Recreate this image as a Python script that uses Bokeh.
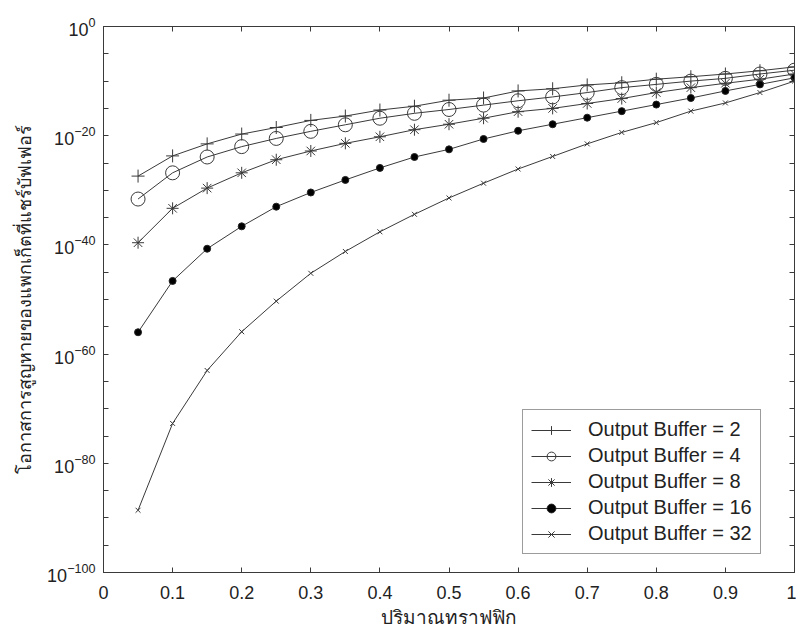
from bokeh.plotting import figure
from bokeh.models import (LogAxis, LinearAxis, FixedTicker, LogTickFormatter, Legend,
                          LegendItem, Range1d, BasicTickFormatter, CustomJSTickFormatter)
from bokeh.embed import file_html
from bokeh.resources import INLINE

# ---- data (y values given as base-10 exponents) ----
traffic = [0.05, 0.10, 0.15, 0.20, 0.25, 0.30, 0.35, 0.40, 0.45, 0.50,
           0.55, 0.60, 0.65, 0.70, 0.75, 0.80, 0.85, 0.90, 0.95, 1.00]

exp_buf2 = [-27.4, -23.7, -21.5, -19.7, -18.5, -17.2, -16.4, -15.3, -14.6, -13.5,
            -13.1, -11.8, -11.4, -10.7, -10.3, -9.65, -9.2, -8.7, -8.1, -7.4]
exp_buf4 = [-31.6, -26.8, -23.9, -22.0, -20.5, -19.2, -18.0, -16.8, -15.9, -15.2,
            -14.4, -13.6, -12.9, -12.1, -11.2, -10.6, -10.0, -9.5, -8.7, -8.0]
exp_buf8 = [-39.6, -33.3, -29.6, -26.8, -24.4, -22.8, -21.4, -20.2, -18.9, -17.9,
            -16.8, -15.6, -15.0, -14.1, -13.2, -12.1, -11.2, -10.4, -9.65, -8.7]
exp_buf16 = [-56.0, -46.6, -40.7, -36.6, -33.0, -30.4, -28.1, -25.9, -23.9, -22.5,
             -20.6, -19.1, -17.9, -16.7, -15.5, -14.3, -13.1, -11.8, -10.6, -9.4]
exp_buf32 = [-88.6, -72.7, -63.0, -55.9, -50.3, -45.2, -41.2, -37.6, -34.4, -31.4,
             -28.7, -26.1, -23.8, -21.5, -19.4, -17.6, -15.5, -14.0, -12.1, -10.0]

series_labels = ["Output Buffer = 2", "Output Buffer = 4", "Output Buffer = 8",
                 "Output Buffer = 16", "Output Buffer = 32"]

x_ticks = [0, 0.1, 0.2, 0.3, 0.4, 0.5, 0.6, 0.7, 0.8, 0.9, 1]
y_major_exps = [0, -20, -40, -60, -80, -100]
y_minor_exps = [-5, -10, -15, -25, -30, -35, -45, -50, -55, -65, -70, -75, -85, -90, -95]

x_label = "ปริมาณทราฟฟิก"
y_label = "โอกาสการสูญหายของแพกเก็ตที่แชร์บัฟเฟอร์"

# ---- figure ----
FONT = "Liberation Sans"
INK = "#3a3a3a"

p = figure(width=796, height=632, y_axis_type="log",
           x_range=Range1d(0, 1), y_range=Range1d(1e-100, 1),
           output_backend="svg", toolbar_location=None,
           min_border_left=103, min_border_top=26, min_border_right=2, min_border_bottom=57)

p.xgrid.grid_line_color = None
p.ygrid.grid_line_color = None
p.outline_line_color = INK
p.background_fill_color = "white"
p.border_fill_color = "white"

y_major = [10.0 ** e for e in y_major_exps]
y_minor = [10.0 ** e for e in y_minor_exps]

def style_axis(ax):
    ax.axis_line_color = INK
    ax.major_tick_line_color = INK
    ax.minor_tick_line_color = INK
    ax.major_tick_in = 5
    ax.major_tick_out = 0
    ax.minor_tick_in = 5
    ax.minor_tick_out = 0
    ax.major_label_text_font = FONT
    ax.major_label_text_font_size = "18px"
    ax.major_label_text_color = "#222222"

xa = p.xaxis[0]
xa.ticker = FixedTicker(ticks=x_ticks)
xa.formatter = BasicTickFormatter()
xa.major_label_overrides = {0: "0", 1: "1"}
style_axis(xa)
xa.major_label_standoff = 13
xa.axis_label = x_label
xa.axis_label_text_font = "Noto Sans"
xa.axis_label_text_font_size = "19px"
xa.axis_label_text_font_style = "normal"
xa.axis_label_text_color = "#222222"
xa.axis_label_standoff = 2

ya = p.yaxis[0]
ya.ticker = FixedTicker(ticks=y_major, minor_ticks=y_minor)
ya.formatter = LogTickFormatter()
style_axis(ya)
ya.major_label_standoff = 8
ya.axis_label = y_label
ya.axis_label_text_font = "Noto Sans"
ya.axis_label_text_font_size = "18px"
ya.axis_label_text_font_style = "normal"
ya.axis_label_text_color = "#222222"
ya.axis_label_standoff = 8

blank = CustomJSTickFormatter(code="return ''")

top = LinearAxis(ticker=FixedTicker(ticks=x_ticks), formatter=blank)
style_axis(top)
top.major_label_text_font_size = "1px"
top.major_label_standoff = 0
p.add_layout(top, "above")

right = LogAxis(ticker=FixedTicker(ticks=y_major, minor_ticks=y_minor), formatter=blank)
style_axis(right)
right.major_label_text_font_size = "1px"
right.major_label_standoff = 0
p.add_layout(right, "right")

# ---- series ----
all_exps = [exp_buf2, exp_buf4, exp_buf8, exp_buf16, exp_buf32]
marker_specs = [
    dict(marker="cross", size=13, fill_color=None),
    dict(marker="circle", size=14, fill_color=None),
    dict(marker="asterisk", size=12, fill_color=None),
    dict(marker="circle", size=7, fill_color="black"),
    dict(marker="x", size=7, fill_color=None),
]

items = []
for label, exps, spec in zip(series_labels, all_exps, marker_specs):
    ys = [10.0 ** e for e in exps]
    lr = p.line(traffic, ys, line_color=INK, line_width=1)
    mr = p.scatter(traffic, ys, marker=spec["marker"], size=spec["size"],
                   line_color="#222222" if spec["fill_color"] else INK,
                   fill_color=spec["fill_color"], line_width=1)
    items.append(LegendItem(label=label, renderers=[lr, mr]))

legend = Legend(items=items, location=(419, 18))
legend.label_text_font = FONT
legend.label_text_font_size = "20px"
legend.label_text_color = "#222222"
legend.border_line_color = INK
legend.border_line_width = 1
legend.background_fill_alpha = 1.0
legend.glyph_width = 40
legend.glyph_height = 22
legend.label_height = 22
legend.spacing = 3
legend.padding = 8
legend.margin = 0
legend.label_standoff = 17
p.add_layout(legend)

open("out.html", "w").write(file_html(p, INLINE))
